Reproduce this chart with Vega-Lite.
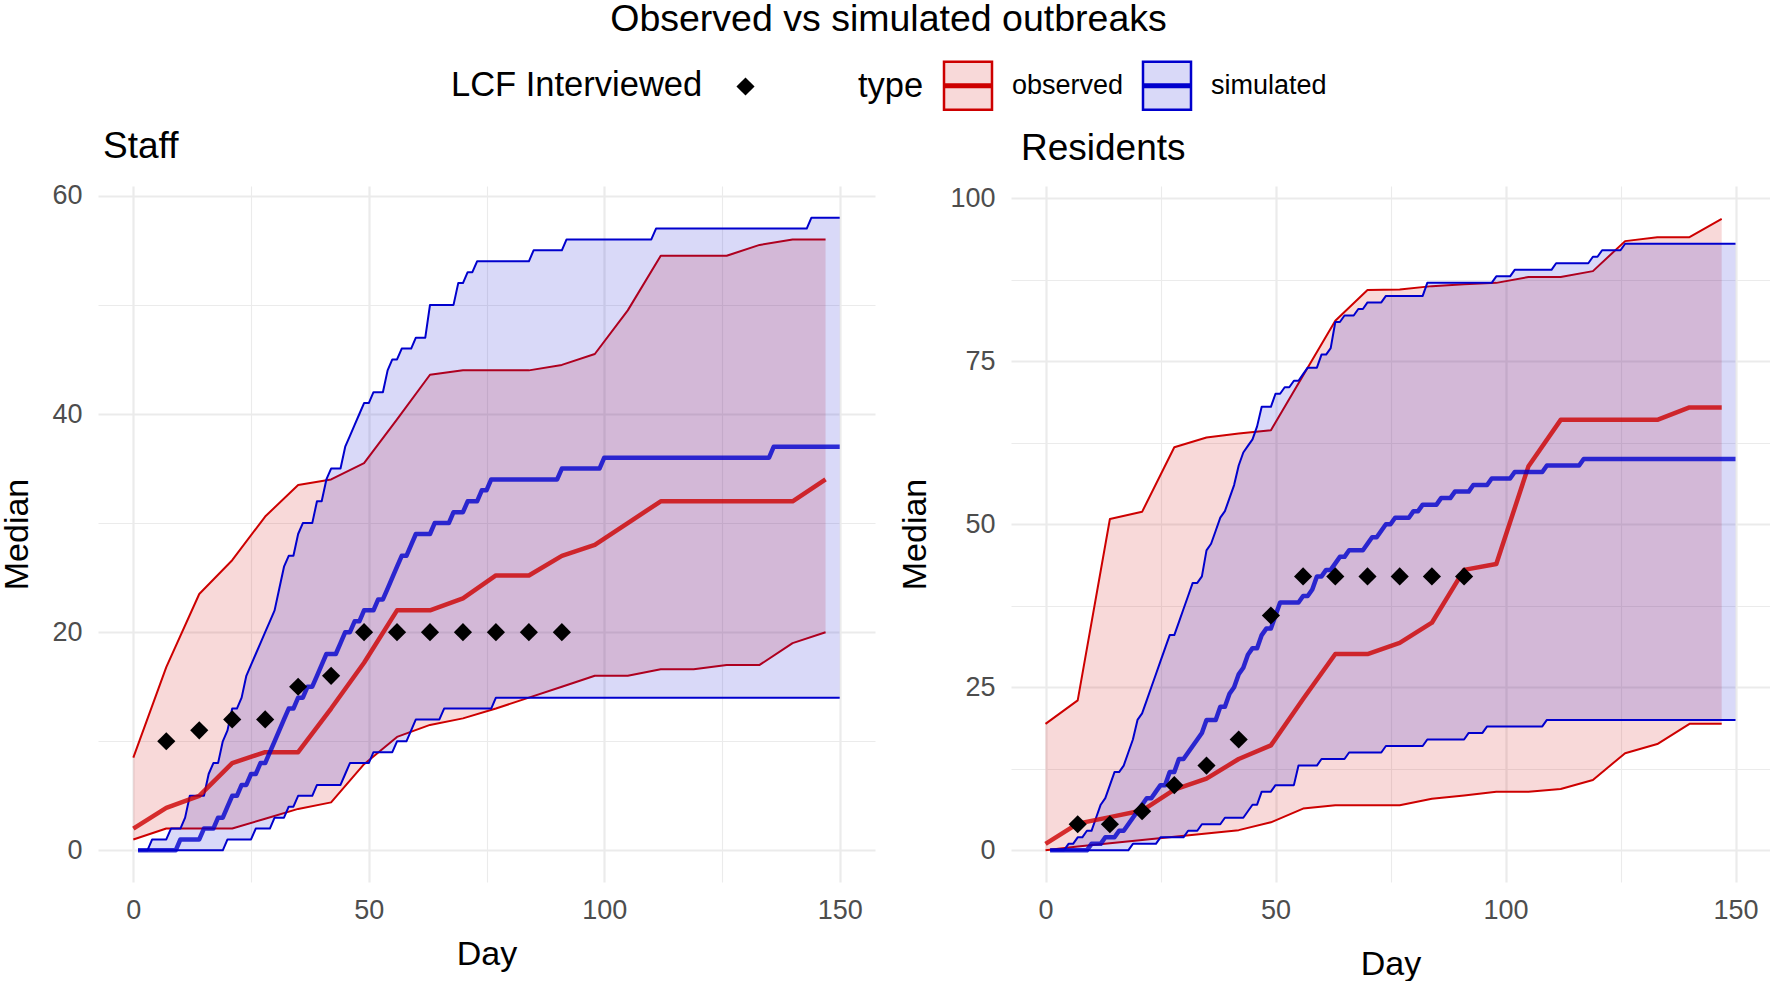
{
 "$schema": "https://vega.github.io/schema/vega-lite/v6.json",
 "padding": 0,
 "background": "white",
 "title": {"text": "Observed vs simulated outbreaks", "fontSize": 37.5, "font": "Liberation Sans", "fontWeight": "normal", "anchor": "middle", "color": "black", "offset": 22, "dx": 3},
 "config": {
  "view": {"stroke": null},
  "font": "Liberation Sans",
  "axis": {"domain": false, "ticks": false, "labelFontSize": 27, "labelColor": "#4D4D4D", "titleFontSize": 34, "titleFontWeight": "normal", "titleColor": "black", "gridColor": "#EBEBEB", "labelFont": "Liberation Sans", "titleFont": "Liberation Sans"},
  "axisX": {"labelPadding": 15, "titlePadding": 14},
  "axisY": {"labelPadding": 16, "titlePadding": 17},
  "legend": {"padding": 0, "titleFont": "Liberation Sans", "labelFont": "Liberation Sans", "titleFontWeight": "normal", "titleColor": "black", "labelColor": "black", "titleLimit": 600, "labelLimit": 400}
 },
 "datasets": {
  "obsS": [
   {"d":0,"l":1.0,"m":2.0,"h":8.5},{"d":7,"l":2.0,"m":3.9,"h":16.8},{"d":14,"l":2.0,"m":5.0,"h":23.5},{"d":21,"l":2.0,"m":8.0,"h":26.6},
   {"d":28,"l":2.9,"m":9.0,"h":30.6},{"d":35,"l":3.8,"m":9.0,"h":33.5},{"d":42,"l":4.4,"m":13.0,"h":34.0},{"d":49,"l":7.9,"m":17.2,"h":35.5},
   {"d":56,"l":10.4,"m":22.0,"h":39.5},{"d":63,"l":11.5,"m":22.0,"h":43.6},{"d":70,"l":12.1,"m":23.1,"h":44.0},{"d":77,"l":13.0,"m":25.2,"h":44.0},
   {"d":84,"l":14.0,"m":25.2,"h":44.0},{"d":91,"l":15.0,"m":27.0,"h":44.5},{"d":98,"l":16.0,"m":28.0,"h":45.5},{"d":105,"l":16.0,"m":30.0,"h":49.5},
   {"d":112,"l":16.6,"m":32.0,"h":54.5},{"d":119,"l":16.6,"m":32.0,"h":54.5},{"d":126,"l":17.0,"m":32.0,"h":54.5},{"d":133,"l":17.0,"m":32.0,"h":55.5},
   {"d":140,"l":19.0,"m":32.0,"h":56.0},{"d":147,"l":20.0,"m":34.0,"h":56.0}
  ],
  "obsR": [
   {"d":0,"l":0.0,"m":1.0,"h":19.4},{"d":7,"l":0.6,"m":4.1,"h":23.0},{"d":14,"l":1.1,"m":5.1,"h":50.8},{"d":21,"l":1.6,"m":6.1,"h":51.9},
   {"d":28,"l":2.1,"m":9.3,"h":61.8},{"d":35,"l":2.6,"m":11.0,"h":63.3},{"d":42,"l":3.1,"m":14.0,"h":63.9},{"d":49,"l":4.3,"m":16.1,"h":64.4},
   {"d":56,"l":6.4,"m":23.2,"h":72.8},{"d":63,"l":6.9,"m":30.1,"h":81.2},{"d":70,"l":6.9,"m":30.1,"h":85.9},{"d":77,"l":6.9,"m":31.8,"h":86.0},
   {"d":84,"l":7.9,"m":34.9,"h":86.5},{"d":91,"l":8.4,"m":43.0,"h":86.8},{"d":98,"l":9.0,"m":43.9,"h":87.0},{"d":105,"l":9.0,"m":58.9,"h":87.9},
   {"d":112,"l":9.4,"m":66.0,"h":87.9},{"d":119,"l":10.8,"m":66.0,"h":88.8},{"d":126,"l":14.9,"m":66.0,"h":93.4},{"d":133,"l":16.3,"m":66.0,"h":94.0},
   {"d":140,"l":19.4,"m":67.9,"h":94.0},{"d":147,"l":19.4,"m":67.9,"h":96.8}
  ],
  "lcfS": [
   {"d":7,"v":10},{"d":14,"v":11},{"d":21,"v":12},{"d":28,"v":12},{"d":35,"v":15},{"d":42,"v":16},{"d":49,"v":20},
   {"d":56,"v":20},{"d":63,"v":20},{"d":70,"v":20},{"d":77,"v":20},{"d":84,"v":20},{"d":91,"v":20}
  ],
  "lcfR": [
   {"d":7,"v":4},{"d":14,"v":4},{"d":21,"v":6},{"d":28,"v":10},{"d":35,"v":13},{"d":42,"v":17},{"d":49,"v":36},
   {"d":56,"v":42},{"d":63,"v":42},{"d":70,"v":42},{"d":77,"v":42},{"d":84,"v":42},{"d":91,"v":42}
  ],
  "simS": [
   {"d":1,"l":0,"m":0,"h":0},{"d":3,"l":0,"m":0,"h":0},{"d":4,"l":0,"m":0,"h":1},{"d":7,"l":0,"m":0,"h":1},{"d":8,"l":0,"m":0,"h":2},
   {"d":9,"l":0,"m":0,"h":2},{"d":10,"l":0,"m":1,"h":2},{"d":11,"l":0,"m":1,"h":3},{"d":12,"l":0,"m":1,"h":5},{"d":14,"l":0,"m":1,"h":5},
   {"d":15,"l":0,"m":2,"h":5},{"d":16,"l":0,"m":2,"h":7},{"d":17,"l":0,"m":2,"h":8},{"d":18,"l":0,"m":3,"h":8},{"d":19,"l":0,"m":3,"h":10},
   {"d":20,"l":1,"m":4,"h":11},{"d":21,"l":1,"m":5,"h":13},{"d":22,"l":1,"m":5,"h":13},{"d":23,"l":1,"m":6,"h":14},{"d":24,"l":1,"m":6,"h":16},
   {"d":25,"l":1,"m":7,"h":17},{"d":26,"l":2,"m":7,"h":18},{"d":27,"l":2,"m":8,"h":19},{"d":28,"l":2,"m":8,"h":20},{"d":29,"l":2,"m":9,"h":21},
   {"d":30,"l":3,"m":10,"h":22},{"d":31,"l":3,"m":11,"h":24},{"d":32,"l":3,"m":12,"h":26},{"d":33,"l":4,"m":13,"h":27},{"d":34,"l":4,"m":13,"h":27},
   {"d":35,"l":5,"m":14,"h":29},{"d":36,"l":5,"m":14,"h":30},{"d":37,"l":5,"m":15,"h":30},{"d":38,"l":5,"m":15,"h":30},{"d":39,"l":6,"m":16,"h":32},
   {"d":40,"l":6,"m":17,"h":32},{"d":41,"l":6,"m":18,"h":34},{"d":42,"l":6,"m":18,"h":35},{"d":43,"l":6,"m":18,"h":35},{"d":44,"l":6,"m":19,"h":35},
   {"d":45,"l":7,"m":20,"h":37},{"d":46,"l":8,"m":20,"h":38},{"d":47,"l":8,"m":21,"h":39},{"d":48,"l":8,"m":21,"h":40},{"d":49,"l":8,"m":22,"h":41},
   {"d":50,"l":8,"m":22,"h":41},{"d":51,"l":9,"m":22,"h":42},{"d":52,"l":9,"m":23,"h":42},{"d":53,"l":9,"m":23,"h":42},{"d":54,"l":9,"m":24,"h":44},
   {"d":55,"l":9,"m":25,"h":45},{"d":56,"l":10,"m":26,"h":45},{"d":57,"l":10,"m":27,"h":46},{"d":58,"l":10,"m":27,"h":46},{"d":59,"l":11,"m":28,"h":46},
   {"d":60,"l":12,"m":29,"h":47},{"d":62,"l":12,"m":29,"h":47},{"d":63,"l":12,"m":29,"h":50},{"d":64,"l":12,"m":30,"h":50},{"d":65,"l":12,"m":30,"h":50},
   {"d":66,"l":13,"m":30,"h":50},{"d":67,"l":13,"m":30,"h":50},{"d":68,"l":13,"m":31,"h":50},{"d":69,"l":13,"m":31,"h":52},{"d":70,"l":13,"m":31,"h":52},
   {"d":71,"l":13,"m":32,"h":53},{"d":72,"l":13,"m":32,"h":53},{"d":73,"l":13,"m":32,"h":54},{"d":74,"l":13,"m":33,"h":54},{"d":75,"l":13,"m":33,"h":54},
   {"d":76,"l":13,"m":34,"h":54},{"d":77,"l":14,"m":34,"h":54},{"d":84,"l":14,"m":34,"h":54},{"d":85,"l":14,"m":34,"h":55},{"d":90,"l":14,"m":34,"h":55},
   {"d":91,"l":14,"m":35,"h":55},{"d":92,"l":14,"m":35,"h":56},{"d":99,"l":14,"m":35,"h":56},{"d":100,"l":14,"m":36,"h":56},{"d":110,"l":14,"m":36,"h":56},
   {"d":111,"l":14,"m":36,"h":57},{"d":135,"l":14,"m":36,"h":57},{"d":136,"l":14,"m":37,"h":57},{"d":143,"l":14,"m":37,"h":57},{"d":144,"l":14,"m":37,"h":58},
   {"d":150,"l":14,"m":37,"h":58}
  ],
  "simR": [
   {"d":1,"l":0,"m":0,"h":0},{"d":4,"l":0,"m":0,"h":0},{"d":5,"l":0,"m":0,"h":1},{"d":6,"l":0,"m":0,"h":1},{"d":7,"l":0,"m":0,"h":2},
   {"d":8,"l":0,"m":0,"h":2},{"d":9,"l":0,"m":0,"h":3},{"d":10,"l":0,"m":1,"h":3},{"d":11,"l":0,"m":1,"h":5},{"d":12,"l":0,"m":1,"h":7},
   {"d":13,"l":0,"m":2,"h":8},{"d":14,"l":0,"m":2,"h":10},{"d":15,"l":0,"m":2,"h":12},{"d":16,"l":0,"m":3,"h":12},{"d":17,"l":0,"m":3,"h":13},
   {"d":18,"l":0,"m":4,"h":15},{"d":19,"l":1,"m":5,"h":17},{"d":20,"l":1,"m":6,"h":20},{"d":21,"l":1,"m":7,"h":21},{"d":22,"l":1,"m":8,"h":23},
   {"d":23,"l":1,"m":8,"h":25},{"d":24,"l":1,"m":9,"h":27},{"d":25,"l":2,"m":10,"h":29},{"d":26,"l":2,"m":10,"h":31},{"d":27,"l":2,"m":12,"h":33},
   {"d":28,"l":2,"m":12,"h":33},{"d":29,"l":2,"m":14,"h":35},{"d":30,"l":2,"m":14,"h":37},{"d":31,"l":3,"m":15,"h":39},{"d":32,"l":3,"m":16,"h":41},
   {"d":33,"l":3,"m":17,"h":41},{"d":34,"l":4,"m":18,"h":42},{"d":35,"l":4,"m":20,"h":46},{"d":36,"l":4,"m":20,"h":47},{"d":37,"l":4,"m":20,"h":49},
   {"d":38,"l":4,"m":22,"h":51},{"d":39,"l":5,"m":22,"h":52},{"d":40,"l":5,"m":24,"h":54},{"d":41,"l":5,"m":25,"h":56},{"d":42,"l":5,"m":27,"h":59},
   {"d":43,"l":5,"m":28,"h":61},{"d":44,"l":6,"m":30,"h":62},{"d":45,"l":7,"m":31,"h":63},{"d":46,"l":7,"m":31,"h":65},{"d":47,"l":9,"m":33,"h":68},
   {"d":48,"l":9,"m":34,"h":68},{"d":49,"l":9,"m":34,"h":68},{"d":50,"l":10,"m":36,"h":70},{"d":51,"l":10,"m":38,"h":70},{"d":52,"l":10,"m":38,"h":71},
   {"d":53,"l":10,"m":38,"h":71},{"d":54,"l":10,"m":38,"h":72},{"d":55,"l":13,"m":38,"h":72},{"d":56,"l":13,"m":39,"h":73},{"d":57,"l":13,"m":39,"h":74},
   {"d":58,"l":13,"m":40,"h":74},{"d":59,"l":13,"m":42,"h":74},{"d":60,"l":14,"m":42,"h":76},{"d":61,"l":14,"m":43,"h":76},{"d":62,"l":14,"m":43,"h":77},
   {"d":63,"l":14,"m":44,"h":81},{"d":64,"l":14,"m":45,"h":81},{"d":65,"l":14,"m":45,"h":82},{"d":66,"l":15,"m":46,"h":82},{"d":67,"l":15,"m":46,"h":82},
   {"d":68,"l":15,"m":46,"h":83},{"d":69,"l":15,"m":46,"h":83},{"d":70,"l":15,"m":47,"h":84},{"d":71,"l":15,"m":48,"h":84},{"d":72,"l":15,"m":48,"h":84},
   {"d":73,"l":15,"m":49,"h":84},{"d":74,"l":16,"m":50,"h":85},{"d":75,"l":16,"m":50,"h":85},{"d":76,"l":16,"m":51,"h":85},{"d":79,"l":16,"m":51,"h":85},
   {"d":80,"l":16,"m":52,"h":85},{"d":81,"l":16,"m":52,"h":85},{"d":82,"l":16,"m":53,"h":85},{"d":83,"l":17,"m":53,"h":87},{"d":85,"l":17,"m":53,"h":87},
   {"d":86,"l":17,"m":54,"h":87},{"d":88,"l":17,"m":54,"h":87},{"d":89,"l":17,"m":55,"h":87},{"d":91,"l":17,"m":55,"h":87},{"d":92,"l":18,"m":55,"h":87},
   {"d":93,"l":18,"m":56,"h":87},{"d":95,"l":18,"m":56,"h":87},{"d":96,"l":19,"m":56,"h":87},{"d":97,"l":19,"m":57,"h":87},{"d":98,"l":19,"m":57,"h":88},
   {"d":101,"l":19,"m":57,"h":88},{"d":102,"l":19,"m":58,"h":89},{"d":108,"l":19,"m":58,"h":89},{"d":109,"l":20,"m":59,"h":89},{"d":110,"l":20,"m":59,"h":89},
   {"d":111,"l":20,"m":59,"h":90},{"d":116,"l":20,"m":59,"h":90},{"d":117,"l":20,"m":60,"h":90},{"d":118,"l":20,"m":60,"h":90},{"d":119,"l":20,"m":60,"h":91},
   {"d":120,"l":20,"m":60,"h":91},{"d":121,"l":20,"m":60,"h":92},{"d":125,"l":20,"m":60,"h":92},{"d":126,"l":20,"m":60,"h":93},{"d":150,"l":20,"m":60,"h":93}
  ]
 },
 "spacing": 23,
 "resolve": {"scale": {"x": "independent", "y": "independent", "fill": "shared", "stroke": "shared", "shape": "shared"}, "legend": {"fill": "shared", "stroke": "shared", "shape": "shared"}},
 "hconcat": [
  {
   "width": 777, "height": 696,
   "title": {"text": "Staff", "anchor": "start", "frame": "group", "fontSize": 37, "fontWeight": "normal", "color": "black", "offset": 16, "dx": 5},
   "encoding": {
    "x": {"field": "d", "type": "quantitative", "title": "Day", "scale": {"domain": [-7.5, 157.5], "nice": false, "zero": false},
          "axis": {"values": [0,25,50,75,100,125,150], "labelExpr": "datum.value % 50 === 0 ? datum.label : ''", "gridWidth": {"condition": {"test": "datum.value % 50 === 0", "value": 2.2}, "value": 1.1}}}
   },
   "layer": [
    {"data": {"name": "obsS"}, "mark": {"type": "area"},
     "encoding": {
      "y": {"field": "l", "type": "quantitative", "title": "Median", "scale": {"domain": [-2.9, 60.9], "nice": false, "zero": false}, "axis": {"values": [0,10,20,30,40,50,60], "labelExpr": "datum.value % 20 === 0 ? datum.label : ''", "gridWidth": {"condition": {"test": "datum.value % 20 === 0", "value": 2.2}, "value": 1.1}}},
      "y2": {"field": "h"},
      "fill": {"datum": "observed", "type": "nominal", "scale": {"domain": ["observed", "simulated"], "range": ["rgba(205,0,0,0.15)", "rgba(0,0,205,0.15)"]},
       "legend": {"title": "type", "orient": "none", "legendX": 760, "legendY": -126, "direction": "horizontal", "titleOrient": "left", "titleAngle": 0, "titleFontSize": 34.5, "titlePadding": 18.5, "titleBaseline": "middle", "titleAnchor": "middle",
        "labelFontSize": 27, "labelOffset": 18.4, "columnPadding": 14, "symbolType": "M-1,-1H1V1H-1Z M-1,-0.05H1V0.05H-1Z", "symbolSize": 2304, "symbolStrokeWidth": 2.5}}
     }},
    {"data": {"name": "obsS"}, "mark": {"type": "line", "strokeWidth": 2, "strokeJoin": "round"},
     "encoding": {"y": {"field": "h", "type": "quantitative", "title": "Median", "scale": {"domain": [-2.9, 60.9], "nice": false, "zero": false}},
      "stroke": {"datum": "observed", "type": "nominal", "scale": {"domain": ["observed", "simulated"], "range": ["#CD0000", "#0000CD"]},
       "legend": {"title": "type", "orient": "none", "legendX": 760, "legendY": -126, "direction": "horizontal", "titleOrient": "left", "titleAngle": 0, "titleFontSize": 34.5, "titlePadding": 18.5, "titleBaseline": "middle", "titleAnchor": "middle",
        "labelFontSize": 27, "labelOffset": 18.4, "columnPadding": 14, "symbolType": "M-1,-1H1V1H-1Z M-1,-0.05H1V0.05H-1Z", "symbolSize": 2304, "symbolStrokeWidth": 2.5}}}},
    {"data": {"name": "obsS"}, "mark": {"type": "line", "strokeWidth": 2, "strokeJoin": "round"},
     "encoding": {"y": {"field": "l", "type": "quantitative", "title": "Median", "scale": {"domain": [-2.9, 60.9], "nice": false, "zero": false}}, "stroke": {"datum": "observed", "type": "nominal"}}},
    {"data": {"name": "simS"}, "mark": {"type": "area"},
     "encoding": {"y": {"field": "l", "type": "quantitative", "title": "Median", "scale": {"domain": [-2.9, 60.9], "nice": false, "zero": false}}, "y2": {"field": "h"}, "fill": {"datum": "simulated", "type": "nominal"}}},
    {"data": {"name": "simS"}, "mark": {"type": "line", "strokeWidth": 2, "strokeJoin": "round"},
     "encoding": {"y": {"field": "h", "type": "quantitative", "title": "Median", "scale": {"domain": [-2.9, 60.9], "nice": false, "zero": false}}, "stroke": {"datum": "simulated", "type": "nominal"}}},
    {"data": {"name": "simS"}, "mark": {"type": "line", "strokeWidth": 2, "strokeJoin": "round"},
     "encoding": {"y": {"field": "l", "type": "quantitative", "title": "Median", "scale": {"domain": [-2.9, 60.9], "nice": false, "zero": false}}, "stroke": {"datum": "simulated", "type": "nominal"}}},
    {"data": {"name": "obsS"}, "mark": {"type": "line", "strokeWidth": 4.5, "strokeOpacity": 0.8, "strokeJoin": "round"},
     "encoding": {"y": {"field": "m", "type": "quantitative", "title": "Median", "scale": {"domain": [-2.9, 60.9], "nice": false, "zero": false}}, "stroke": {"datum": "observed", "type": "nominal"}}},
    {"data": {"name": "simS"}, "mark": {"type": "line", "strokeWidth": 4.5, "strokeOpacity": 0.8, "strokeJoin": "round"},
     "encoding": {"y": {"field": "m", "type": "quantitative", "title": "Median", "scale": {"domain": [-2.9, 60.9], "nice": false, "zero": false}}, "stroke": {"datum": "simulated", "type": "nominal"}}},
    {"data": {"name": "lcfS"}, "mark": {"type": "point", "filled": true, "color": "black", "opacity": 1, "size": 330},
     "encoding": {"y": {"field": "v", "type": "quantitative", "title": "Median", "scale": {"domain": [-2.9, 60.9], "nice": false, "zero": false}},
      "shape": {"datum": "LCF", "type": "nominal", "scale": {"domain": ["LCF"], "range": ["diamond"]},
       "legend": {"title": "LCF Interviewed", "orient": "none", "legendX": 353, "legendY": -113, "titleOrient": "left", "titleAngle": 0, "titleFontSize": 34.5, "titlePadding": 29, "titleBaseline": "middle", "titleAnchor": "middle", "labelExpr": "''", "symbolSize": 330, "symbolFillColor": "black", "symbolStrokeColor": "black", "symbolStrokeWidth": 0, "labelFontSize": 27}}}}
   ]
  },
  {
   "width": 759, "height": 696,
   "title": {"text": "Residents", "anchor": "start", "frame": "group", "fontSize": 37, "fontWeight": "normal", "color": "black", "offset": 16, "dx": 10},
   "encoding": {
    "x": {"field": "d", "type": "quantitative", "title": "Day", "scale": {"domain": [-7.5, 157.5], "nice": false, "zero": false},
          "axis": {"values": [0,25,50,75,100,125,150], "titlePadding": 24, "labelExpr": "datum.value % 50 === 0 ? datum.label : ''", "gridWidth": {"condition": {"test": "datum.value % 50 === 0", "value": 2.2}, "value": 1.1}}}
   },
   "layer": [
    {"data": {"name": "obsR"}, "mark": {"type": "area"},
     "encoding": {
      "y": {"field": "l", "type": "quantitative", "title": "Median", "scale": {"domain": [-4.85, 101.85], "nice": false, "zero": false}, "axis": {"values": [0,12.5,25,37.5,50,62.5,75,87.5,100], "labelExpr": "datum.value % 25 === 0 ? datum.label : ''", "gridWidth": {"condition": {"test": "datum.value % 25 === 0", "value": 2.2}, "value": 1.1}}},
      "y2": {"field": "h"},
      "fill": {"datum": "observed", "type": "nominal"}
     }},
    {"data": {"name": "obsR"}, "mark": {"type": "line", "strokeWidth": 2, "strokeJoin": "round"},
     "encoding": {"y": {"field": "h", "type": "quantitative", "title": "Median", "scale": {"domain": [-4.85, 101.85], "nice": false, "zero": false}}, "stroke": {"datum": "observed", "type": "nominal"}}},
    {"data": {"name": "obsR"}, "mark": {"type": "line", "strokeWidth": 2, "strokeJoin": "round"},
     "encoding": {"y": {"field": "l", "type": "quantitative", "title": "Median", "scale": {"domain": [-4.85, 101.85], "nice": false, "zero": false}}, "stroke": {"datum": "observed", "type": "nominal"}}},
    {"data": {"name": "simR"}, "mark": {"type": "area"},
     "encoding": {"y": {"field": "l", "type": "quantitative", "title": "Median", "scale": {"domain": [-4.85, 101.85], "nice": false, "zero": false}}, "y2": {"field": "h"}, "fill": {"datum": "simulated", "type": "nominal"}}},
    {"data": {"name": "simR"}, "mark": {"type": "line", "strokeWidth": 2, "strokeJoin": "round"},
     "encoding": {"y": {"field": "h", "type": "quantitative", "title": "Median", "scale": {"domain": [-4.85, 101.85], "nice": false, "zero": false}}, "stroke": {"datum": "simulated", "type": "nominal"}}},
    {"data": {"name": "simR"}, "mark": {"type": "line", "strokeWidth": 2, "strokeJoin": "round"},
     "encoding": {"y": {"field": "l", "type": "quantitative", "title": "Median", "scale": {"domain": [-4.85, 101.85], "nice": false, "zero": false}}, "stroke": {"datum": "simulated", "type": "nominal"}}},
    {"data": {"name": "obsR"}, "mark": {"type": "line", "strokeWidth": 4.5, "strokeOpacity": 0.8, "strokeJoin": "round"},
     "encoding": {"y": {"field": "m", "type": "quantitative", "title": "Median", "scale": {"domain": [-4.85, 101.85], "nice": false, "zero": false}}, "stroke": {"datum": "observed", "type": "nominal"}}},
    {"data": {"name": "simR"}, "mark": {"type": "line", "strokeWidth": 4.5, "strokeOpacity": 0.8, "strokeJoin": "round"},
     "encoding": {"y": {"field": "m", "type": "quantitative", "title": "Median", "scale": {"domain": [-4.85, 101.85], "nice": false, "zero": false}}, "stroke": {"datum": "simulated", "type": "nominal"}}},
    {"data": {"name": "lcfR"}, "mark": {"type": "point", "filled": true, "color": "black", "opacity": 1, "size": 330},
     "encoding": {"y": {"field": "v", "type": "quantitative", "title": "Median", "scale": {"domain": [-4.85, 101.85], "nice": false, "zero": false}},
      "shape": {"datum": "LCF", "type": "nominal"}}}
   ]
  }
 ]
}
